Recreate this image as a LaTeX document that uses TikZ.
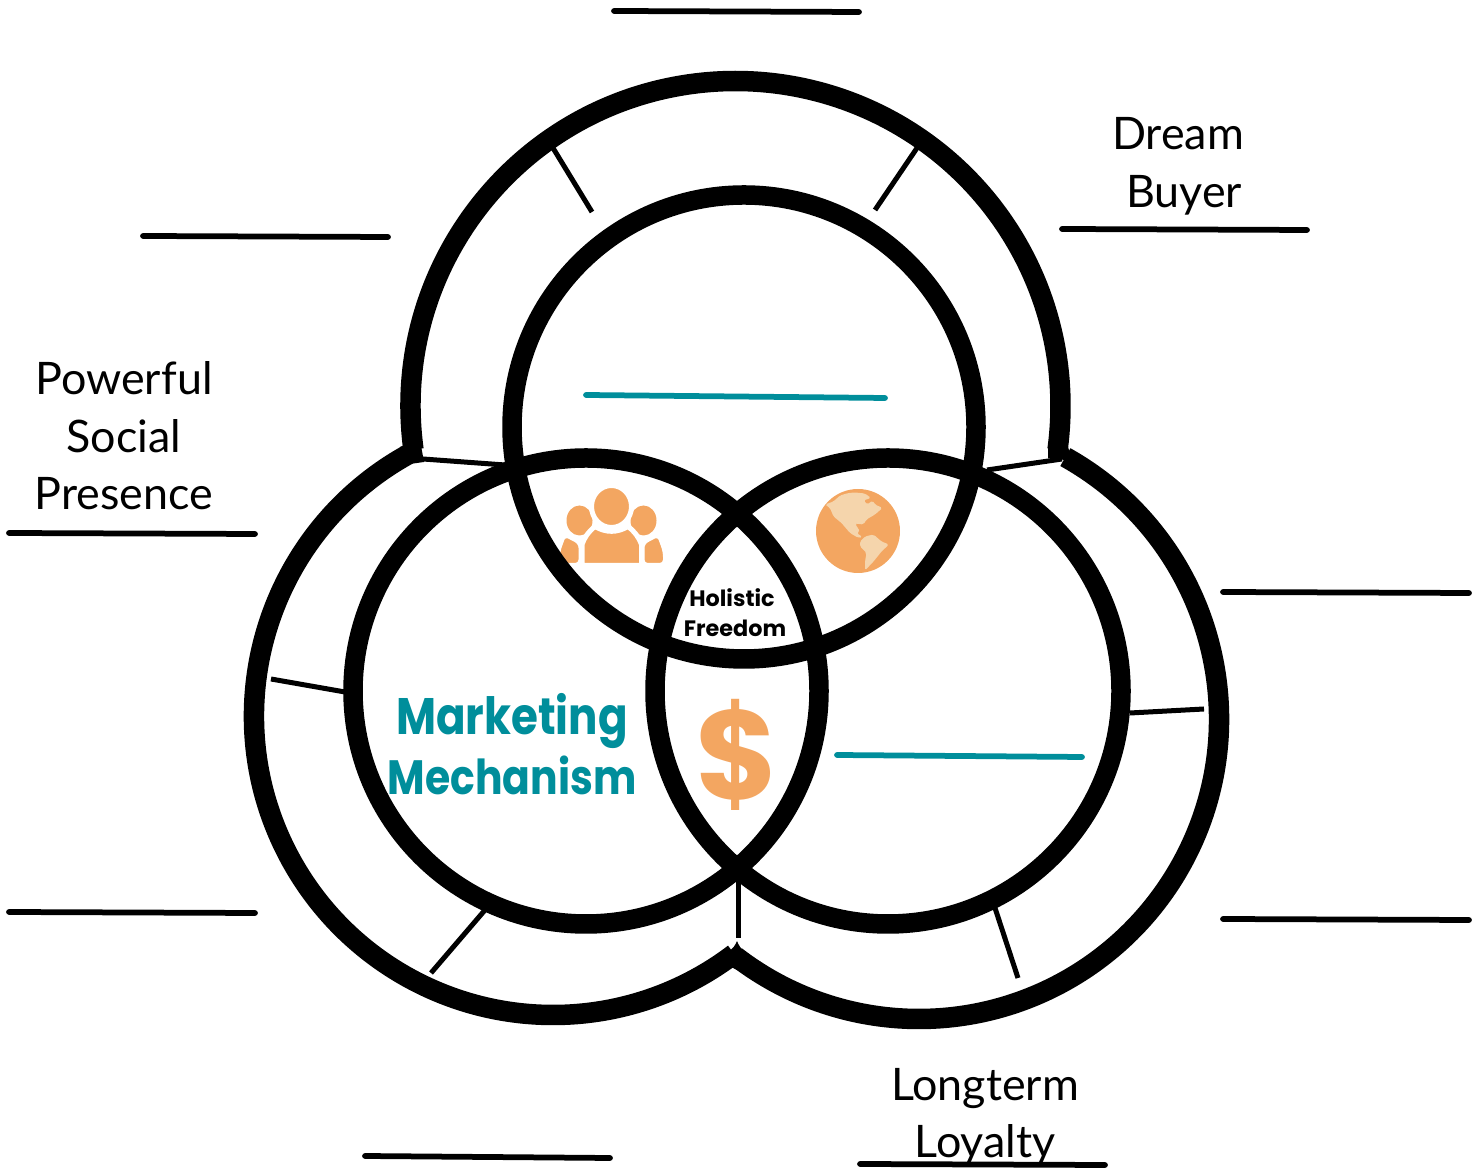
\documentclass[tikz,border=0pt]{standalone}
\usepackage{fontspec}
\setmainfont{Lato}
\newfontfamily\headfont{Poppins}
\newfontfamily\mechfont{Poppins}[FakeStretch=.85]
\usetikzlibrary{positioning}
\definecolor{tealmark}{HTML}{008E9B}
\definecolor{orangemark}{HTML}{F3A661}
\definecolor{orangepale}{HTML}{F5D5AC}
\pgfdeclarelayer{nodelayer}
\pgfdeclarelayer{edgelayer}
\pgfsetlayers{edgelayer,nodelayer,main}
\tikzstyle{none}=[inner sep=-1pt]
\tikzset{ring/.style={shape=circle, draw=black, line width=.39cm, inner sep=0pt, outer sep=0pt}}
\tikzset{band/.style={draw=black, line width=.41cm}}
\tikzset{blank/.style={line width=.115cm, line cap=round}}
\tikzset{spoke/.style={line width=.1cm}}
\tikzset{caption/.style={inner sep=0pt, font=\fontsize{25.5}{30}\selectfont}}
\tikzset{mech/.style={inner sep=0pt, text=tealmark, font=\mechfont\bfseries\fontsize{27.4}{34}\selectfont}}
\tikzset{goal/.style={inner sep=0pt, font=\headfont\bfseries\fontsize{12.7}{15}\selectfont}}
\tikzset{crowd/.style={color=white, fill=orangemark, line width=.1cm}}
\begin{document}
\begin{tikzpicture}
        \useasboundingbox (0,0) rectangle (29.64,23.38);
        \begin{pgfonlayer}{nodelayer}
            \node [style=ring, minimum size=9.28cm] (0) at (14.88, 14.84) {};
            \node [style=ring, minimum size=9.32cm] (1) at (11.72, 9.56) {};
            \node [style=ring, minimum size=9.32cm] (2) at (17.76, 9.56) {};
            \node [style=none] (3) at (14.71, 15.26) {};
            \node [style=none] (4) at (11.06, 9.06) {};
            \node [style=none] (5) at (18.38, 9.00) {};
            \node [style=none] (6) at (12.28, 23.16) {};
            \node [style=none] (7) at (17.18, 23.14) {};
            \node [style=none] (8) at (2.86, 18.66) {};
            \node [style=none] (9) at (7.76, 18.64) {};
            \node [style=none] (10) at (21.24, 18.80) {};
            \node [style=none] (11) at (26.14, 18.78) {};
            \node [style=none] (12) at (0.18, 12.72) {};
            \node [style=none] (13) at (5.10, 12.70) {};
            \node [style=none] (14) at (24.46, 11.54) {};
            \node [style=none] (15) at (29.38, 11.52) {};
            \node [style=none] (16) at (0.18, 5.14) {};
            \node [style=none] (17) at (5.10, 5.12) {};
            \node [style=none] (18) at (24.46, 5.00) {};
            \node [style=none] (19) at (29.38, 4.98) {};
            \node [style=none] (20) at (7.30, 0.26) {};
            \node [style=none] (21) at (12.20, 0.22) {};
            \node [style=none] (22) at (17.20, 0.10) {};
            \node [style=none] (23) at (22.10, 0.08) {};
            \node [style=none] (24) at (11.72, 15.48) {};
            \node [style=none] (25) at (17.70, 15.42) {};
            \node [style=none] (26) at (16.74, 8.28) {};
            \node [style=none] (27) at (21.64, 8.24) {};
            \node [style=none] (28) at (11.06, 20.42) {};
            \node [style=none] (29) at (11.84, 19.14) {};
            \node [style=none] (30) at (18.34, 20.42) {};
            \node [style=none] (31) at (17.50, 19.18) {};
            \node [style=none] (32) at (8.46, 14.20) {};
            \node [style=none] (33) at (10.10, 14.08) {};
            \node [style=none] (34) at (19.74, 13.98) {};
            \node [style=none] (35) at (21.24, 14.20) {};
            \node [style=none] (36) at (5.42, 9.80) {};
            \node [style=none] (37) at (6.90, 9.54) {};
            \node [style=none] (38) at (9.70, 5.18) {};
            \node [style=none] (39) at (8.62, 3.92) {};
            \node [style=none] (40) at (22.60, 9.12) {};
            \node [style=none] (41) at (24.08, 9.20) {};
            \node [style=none] (42) at (19.90, 5.22) {};
            \node [style=none] (43) at (20.36, 3.82) {};
            \node [style=none] (44) at (14.76, 5.78) {};
            \node [style=none] (45) at (14.76, 4.62) {};
            \node [style=caption] (46) at (23.56, 20.70) {Dream};
            \node [style=caption] (47) at (23.68, 19.48) {Buyer};
            \node [style=caption] (48) at (2.48, 15.82) {Powerful};
            \node [style=caption] (49) at (2.48, 14.66) {Social};
            \node [style=caption] (50) at (2.48, 13.50) {Presence};
            \node [style=caption] (51) at (19.70, 1.60) {Longterm};
            \node [style=caption] (52) at (19.70, 0.48) {Loyalty};
            \node [style=mech, font=\mechfont\bfseries\fontsize{29.2}{34}\selectfont] (53) at (10.24, 8.96) {Marketing};
            \node [style=mech] (54) at (10.24, 7.88) {Mechanism};
            \node [style=goal] (55) at (14.64, 11.42) {Holistic};
            \node [style=goal] (56) at (14.70, 10.82) {Freedom};
            \node [inner sep=0pt, text=orangemark, font=\headfont\bfseries\fontsize{72}{76}\selectfont] (57) at (14.74, 8.28) {\$};
            \node [shape=circle, fill=orangemark, inner sep=0pt, minimum size=1.68cm] (58) at (17.16, 12.76) {};
        \end{pgfonlayer}
        \begin{pgfonlayer}{edgelayer}
            \draw [style=band] (3.center) ++(187.7:6.5) arc [start angle=187.7, end angle=-7.7, radius=6.5];
            \draw [style=band] (4.center) ++(119:5.98) arc [start angle=119, end angle=307.3, radius=5.98];
            \draw [style=band] (5.center) ++(60.8:6) arc [start angle=60.8, end angle=-127.7, radius=6];
            \fill (14.26, 4.22) .. controls (14.55, 4.30) and (14.68, 4.40) .. (14.74, 4.56) .. controls (14.80, 4.40) and (14.93, 4.26) .. (15.22, 4.14) -- (14.74, 3.98) -- cycle;
            \fill (8.00, 14.44) -- (8.40, 14.58) -- (8.48, 14.14) -- (8.20, 14.10) -- cycle;
            \fill (21.36, 14.44) -- (20.96, 14.44) -- (20.96, 14.22) -- (21.30, 14.18) -- (21.30, 14.10) -- (21.50, 14.00) -- cycle;
            \draw [style=blank] (6.center) to (7.center);
            \draw [style=blank] (8.center) to (9.center);
            \draw [style=blank] (10.center) to (11.center);
            \draw [style=blank] (12.center) to (13.center);
            \draw [style=blank] (14.center) to (15.center);
            \draw [style=blank] (16.center) to (17.center);
            \draw [style=blank] (18.center) to (19.center);
            \draw [style=blank] (20.center) to (21.center);
            \draw [style=blank] (22.center) to (23.center);
            \draw [style=blank, color=tealmark] (24.center) to (25.center);
            \draw [style=blank, color=tealmark] (26.center) to (27.center);
            \draw [style=spoke] (28.center) to (29.center);
            \draw [style=spoke] (30.center) to (31.center);
            \draw [style=spoke] (32.center) to (33.center);
            \draw [style=spoke] (34.center) to (35.center);
            \draw [style=spoke] (36.center) to (37.center);
            \draw [style=spoke] (38.center) to (39.center);
            \draw [style=spoke] (40.center) to (41.center);
            \draw [style=spoke] (42.center) to (43.center);
            \draw [style=spoke] (44.center) to (45.center);
            % people
            \fill [color=orangemark] (11.59, 12.97) ellipse (.26 and .30);
            \fill [color=orangemark] (12.87, 12.97) ellipse (.26 and .30);
            \draw [style=crowd, rounded corners=3pt] (11.15, 12.07) -- (11.15, 12.35) -- (11.28, 12.71) -- (11.62, 12.53) -- (11.62, 12.07) -- cycle;
            \draw [style=crowd, rounded corners=3pt] (13.31, 12.07) -- (13.31, 12.35) -- (13.18, 12.71) -- (12.84, 12.53) -- (12.84, 12.07) -- cycle;
            \draw [style=crowd] (11.64, 12.07) -- (11.64, 12.49) to [bend left=15] (11.90, 12.85) to [bend right=30] (12.56, 12.85) to [bend left=15] (12.83, 12.49) -- (12.83, 12.07) -- cycle;
            \draw [style=crowd] (12.23, 13.25) ellipse (.40 and .42);
        \end{pgfonlayer}
        % globe
        \fill [color=orangepale, rounded corners=1pt] (16.50, 13.29) -- (16.67, 13.35) -- (16.80, 13.47) -- (16.97, 13.52) -- (17.10, 13.53) -- (17.30, 13.51) -- (17.42, 13.42) -- (17.27, 13.37) -- (17.35, 13.29) -- (17.45, 13.37) -- (17.50, 13.29) -- (17.65, 13.22) -- (17.50, 13.09) -- (17.33, 12.99) -- (17.27, 12.89) -- (17.10, 12.91) -- (17.20, 12.75) -- (17.13, 12.72) -- (17.25, 12.64) -- (17.17, 12.62) -- (17.00, 12.72) -- (16.83, 12.92) -- (16.67, 13.05) -- (16.60, 13.22) -- cycle;
        \fill [color=orangepale, rounded corners=1pt] (17.20, 12.55) -- (17.30, 12.65) -- (17.47, 12.69) -- (17.63, 12.55) -- (17.78, 12.49) -- (17.63, 12.35) -- (17.47, 12.15) -- (17.30, 11.97) -- (17.30, 12.15) -- (17.33, 12.32) -- (17.20, 12.45) -- cycle;
\end{tikzpicture}
\end{document}
